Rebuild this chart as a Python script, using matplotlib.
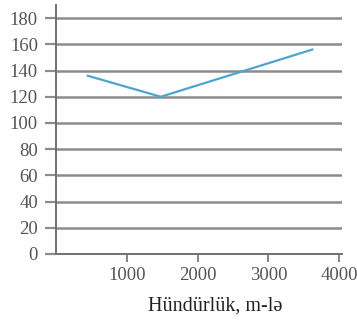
import matplotlib

matplotlib.use("Agg")
import matplotlib.pyplot as plt

# altitude (m) vs. value
altitude = [450, 1480, 3620]
value = [136, 120, 156]

y_ticks = [0, 20, 40, 60, 80, 100, 120, 140, 160, 180]
x_ticks = [1000, 2000, 3000, 4000]
x_label = "Hündürlük, m-lə"

W, H = 357, 322


def main() -> None:
    plt.rcParams["font.family"] = ["Liberation Serif", "DejaVu Serif"]
    fig = plt.figure(figsize=(W / 100, H / 100), dpi=100)
    ax = fig.add_axes([56 / W, 1 - 254 / H, (342 - 56) / W, (254 - 5) / H])

    grid_color = "#8c8c8c"
    for y in y_ticks[1:]:
        ax.axhline(y, color=grid_color, lw=1.8, zorder=1)

    ax.plot(altitude, value, color="#4aa6cf", lw=1.6, zorder=3)

    ax.set_xlim(0, 4040)
    ax.set_ylim(0, 190)
    ax.set_xticks(x_ticks)
    ax.set_yticks(y_ticks)

    for side in ("top", "right"):
        ax.spines[side].set_visible(False)
    ax.spines["left"].set_color("#707070")
    ax.spines["left"].set_linewidth(1.4)
    ax.spines["bottom"].set_color("#707070")
    ax.spines["bottom"].set_linewidth(1.4)

    ax.tick_params(axis="y", direction="out", length=8, width=1.6, color=grid_color,
                   pad=5, labelsize=13.5, labelcolor="#555555")
    ax.tick_params(axis="x", direction="out", length=6, width=1.2, color="#707070",
                   pad=3, labelsize=13.5, labelcolor="#555555")

    fig.text(215 / W, 1 - 306 / H, x_label, ha="center", va="center",
             fontsize=14.5, color="#222222")

    fig.savefig("out.png", dpi=100)
    plt.close(fig)


if __name__ == "__main__":
    main()
